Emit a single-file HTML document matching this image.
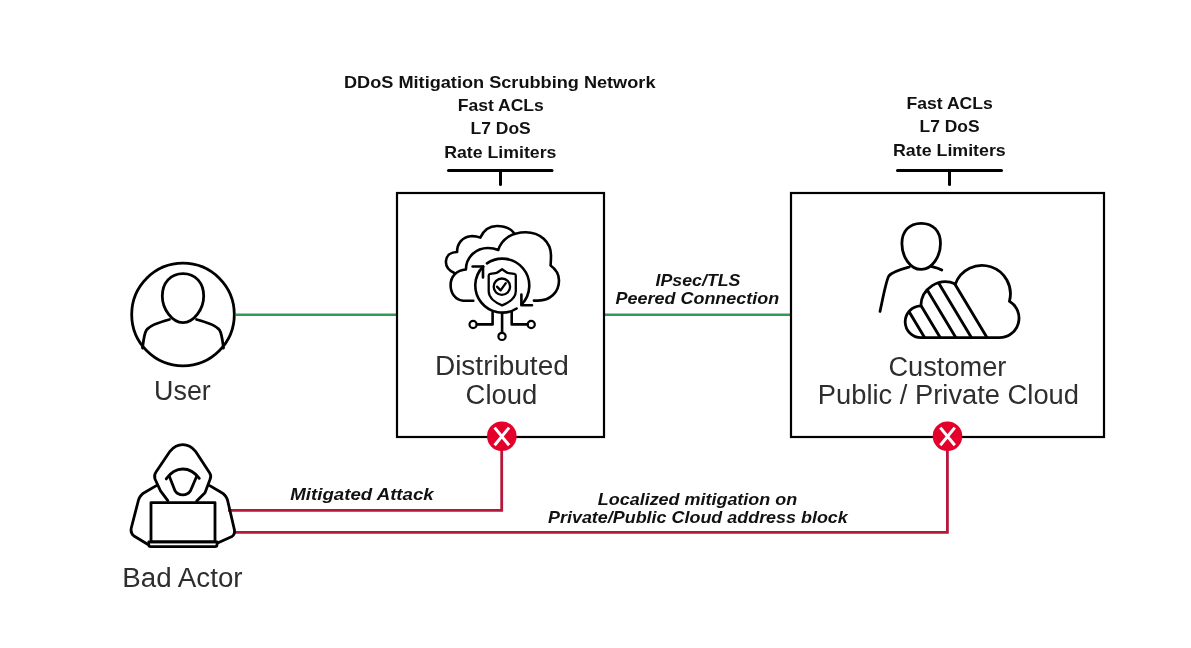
<!DOCTYPE html>
<html><head><meta charset="utf-8">
<style>
html,body{margin:0;padding:0;background:#fff;width:1191px;height:648px;overflow:hidden}
svg{display:block;will-change:transform}
.r{font-family:"Liberation Sans",sans-serif;font-size:27px;fill:#2e2e2e}
.b{font-family:"Liberation Sans",sans-serif;font-size:16.5px;font-weight:bold;fill:#111}
.bi{font-family:"Liberation Sans",sans-serif;font-size:16.5px;font-weight:bold;font-style:italic;fill:#111}
</style></head><body>
<svg width="1191" height="648" viewBox="0 0 1191 648">
<rect width="1191" height="648" fill="#fff"/>
<!-- green lines -->
<line x1="236" y1="314.8" x2="397" y2="314.8" stroke="#2e9c52" stroke-width="2.4"/>
<line x1="604" y1="314.8" x2="791" y2="314.8" stroke="#2e9c52" stroke-width="2.4"/>

<!-- red lines -->
<polyline points="228,510.3 501.7,510.3 501.7,448" fill="none" stroke="#b4193c" stroke-width="2.8"/>
<polyline points="234,532.4 947.4,532.4 947.4,448" fill="none" stroke="#b4193c" stroke-width="2.8"/>

<!-- boxes -->
<rect x="397" y="193" width="207" height="244" fill="none" stroke="#000" stroke-width="2.2"/>
<rect x="791" y="193" width="313" height="244" fill="none" stroke="#000" stroke-width="2.2"/>

<!-- T connectors -->
<g stroke="#000" stroke-width="3" stroke-linecap="round" fill="none">
<line x1="448.5" y1="170.4" x2="552" y2="170.4"/>
<line x1="500.5" y1="170.4" x2="500.5" y2="184.5"/>
<line x1="897.5" y1="170.4" x2="1001.5" y2="170.4"/>
<line x1="949.5" y1="170.4" x2="949.5" y2="184.5"/>
</g>

<!-- X circles -->
<g>
<circle cx="501.8" cy="436.3" r="14.8" fill="#e4002b"/>
<path d="M494.6 427.6 L509.1 445.2 M509.1 427.6 L494.6 445.2" stroke="#fff" stroke-width="3" stroke-linecap="butt"/>
<circle cx="947.5" cy="436.3" r="14.8" fill="#e4002b"/>
<path d="M940.3 427.6 L954.8 445.2 M954.8 427.6 L940.3 445.2" stroke="#fff" stroke-width="3" stroke-linecap="butt"/>
</g>

<!-- User icon -->
<g stroke="#000" stroke-width="2.8" fill="none" stroke-linecap="round" stroke-linejoin="round">
<circle cx="183" cy="314.5" r="51.3"/>
<path d="M183 273.6 C170.5 273.6 162.3 283 162.3 296 C162.3 309 172 322.6 183 322.6 C194 322.6 203.7 309 203.7 296 C203.7 283 195.5 273.6 183 273.6 Z"/>
<path d="M169.5 319.5 C160 322 150 325 146.5 330 C144 334 143.5 341 142.5 348"/>
<path d="M196.5 319.5 C206 322 216 325 219.5 330 C222 334 222.5 341 223.5 348"/>
</g>

<!-- Customer icon -->
<defs><clipPath id="cc"><path d="M921.40 337.70 L999.40 337.70 A19.60 19.60 0 0 0 1009.41 301.25 A28.40 28.40 0 0 0 955.38 283.91 A24.60 24.60 0 0 0 920.81 305.81 A15.90 15.90 0 0 0 921.40 337.70 Z"/></clipPath></defs>
<g stroke="#000" stroke-width="2.8" fill="none" stroke-linecap="round" stroke-linejoin="round">
<path d="M921.2 223.3 C909 223.3 901.9 231.5 901.9 243.5 C901.9 256.5 910 269.4 921.2 269.4 C932 269.4 940.5 256.5 940.5 243.5 C940.5 231.5 933.5 223.3 921.2 223.3 Z"/>
<path d="M909.4 267 C903 268.8 893 271.3 889 275.8 C886.5 279.3 885 288 880 311.5"/>
<path d="M931 266.3 C935 267.3 939 268.3 941.8 270"/>
<path d="M888.70 277.7 L924.70 337.7 M904.30 277.7 L940.30 337.7 M919.90 277.7 L955.90 337.7 M935.50 277.7 L971.50 337.7 M951.10 277.7 L987.10 337.7" clip-path="url(#cc)" stroke-width="2.9"/>
<path d="M921.40 337.70 L999.40 337.70 A19.60 19.60 0 0 0 1009.41 301.25 A28.40 28.40 0 0 0 955.38 283.91 A24.60 24.60 0 0 0 920.81 305.81 A15.90 15.90 0 0 0 921.40 337.70 Z"/>
</g>

<!-- Bad actor icon -->
<g stroke="#000" stroke-width="2.8" fill="none" stroke-linecap="round" stroke-linejoin="round">
<path d="M167.8 500.6 L160.5 490.8 L155 479 C154 476 154.5 474 156 472 L170 451.3 C174 446.5 177.5 444.7 182.8 444.7 C188 444.7 191.5 446.5 195.5 451.3 L209.7 473 C211 475 211 477.5 210 479.5 L205 492.8 L196.7 501.1"/>
<path d="M166.2 478.9 C171 472 176 469 182.8 469 C189.5 469 194.5 472 199.3 478.3"/>
<path d="M169.3 476.3 L175 490.8 C177 494 180 494.9 182.8 494.9 C185.5 494.9 188.5 494 190.5 490.8 L196.7 476.3"/>
<path d="M156.4 485.6 L145 492.3 C141 494.5 139.5 497 138.5 500 L131.4 527.5 C130.5 531 131.5 534 134 536 L147.6 544.2"/>
<path d="M209.7 485.6 L221 492.3 C225 494.5 226.5 497 227.5 500 L234.4 529.8 C235 533 234 535 232 536.5 L217.6 543"/>
<rect x="151" y="502.6" width="64" height="39.2"/>
<path d="M148.8 541.8 L217 541.8 L217 544.8 C217 546.2 216 546.7 215 546.7 L150.8 546.7 C149.6 546.7 148.8 546.2 148.8 544.8 Z"/>
</g>

<!-- Distributed Cloud icon -->
<g stroke="#000" stroke-width="2.6" fill="none" stroke-linecap="round" stroke-linejoin="round">
<!-- back cloud -->
<path d="M454.4 273 C448 270 445.5 266 446 261 C446.5 255 451 252 457.1 252 C457 244 462 237 470.6 236.2 C474 236 477.5 236.5 480.3 237.6 C484 229.5 490 226 497 226 C505 226 511 229 514 233"/>
<!-- front cloud -->
<path d="M473.3 300.7 L463.1 300.7 C455 300 450.6 293 450.6 285 C450.6 276 457 270 465.9 269.5 C466 257 476 248 488 248 C492 248 495.5 248.8 498.3 250 C501.5 239 512 232.2 525.6 232.2 C540 232.2 551 242 551 255.5 C551 259 550.8 262.5 550.6 265.5 C555.5 269 559 274 559 280.5 C559 292.5 550 300.6 538 300.6 L533.9 300.6"/>
<!-- arrow circle arcs -->
<path d="M486.97 263.38 A27 27 0 0 1 521.56 304.52"/>
<path d="M516.61 308.50 A27 27 0 0 1 483.21 266.51"/>
<path d="M472.6 266.5 L483 266.5 L483 277.4"/>
<path d="M521.4 294.5 L521.4 305.2 L532 305.2"/>
<!-- shield -->
<g stroke-width="2.3">
<path d="M502.1 269.2 C499.5 270.8 497.5 273 495.5 273.2 L490.2 273.8 Q488.7 274 488.7 275.5 L488.7 291.3 C488.7 298 496 303 502.1 305.4 C508 303 515.8 298 515.8 291.3 L515.8 275.5 Q515.8 274 514.3 273.8 L508.7 273.2 C506.7 273 504.7 270.8 502.1 269.2 Z"/>
<circle cx="501.9" cy="286.7" r="8.2"/>
<path d="M497 286.6 L500.6 290.4 L505.8 283.2"/>
</g>
<!-- circuit -->
<path d="M492.6 312.4 L492.6 324.4 L476.8 324.4"/>
<path d="M502.1 313 L502.1 332.6"/>
<path d="M511.7 311.8 L511.7 324.4 L527.6 324.4"/>
<circle cx="473.1" cy="324.5" r="3.6" stroke-width="2.2"/>
<circle cx="502" cy="336.4" r="3.6" stroke-width="2.2"/>
<circle cx="531.2" cy="324.5" r="3.6" stroke-width="2.2"/>
</g>

<!-- texts -->
<text class="b" x="344.00" y="87.8" textLength="311.47" lengthAdjust="spacingAndGlyphs">DDoS Mitigation Scrubbing Network</text>
<text class="b" x="457.74" y="111.2" textLength="86.13" lengthAdjust="spacingAndGlyphs">Fast ACLs</text>
<text class="b" x="470.64" y="134.4" textLength="60.15" lengthAdjust="spacingAndGlyphs">L7 DoS</text>
<text class="b" x="444.23" y="157.6" textLength="112.16" lengthAdjust="spacingAndGlyphs">Rate Limiters</text>
<text class="b" x="906.54" y="108.9" textLength="86.23" lengthAdjust="spacingAndGlyphs">Fast ACLs</text>
<text class="b" x="919.54" y="132.4" textLength="60.05" lengthAdjust="spacingAndGlyphs">L7 DoS</text>
<text class="b" x="893.02" y="155.6" textLength="112.77" lengthAdjust="spacingAndGlyphs">Rate Limiters</text>
<text class="r" x="154.11" y="400.4" textLength="56.70" lengthAdjust="spacingAndGlyphs">User</text>
<text class="r" x="434.92" y="375.3" textLength="133.92" lengthAdjust="spacingAndGlyphs">Distributed</text>
<text class="r" x="465.58" y="403.6" textLength="71.79" lengthAdjust="spacingAndGlyphs">Cloud</text>
<text class="r" x="888.49" y="375.6" textLength="117.84" lengthAdjust="spacingAndGlyphs">Customer</text>
<text class="r" x="817.88" y="403.8" textLength="261.07" lengthAdjust="spacingAndGlyphs">Public / Private Cloud</text>
<text class="r" x="122.35" y="587.0" textLength="120.23" lengthAdjust="spacingAndGlyphs">Bad Actor</text>
<text class="bi" x="655.60" y="285.7" textLength="84.84" lengthAdjust="spacingAndGlyphs">IPsec/TLS</text>
<text class="bi" x="615.60" y="303.5" textLength="163.61" lengthAdjust="spacingAndGlyphs">Peered Connection</text>
<text class="bi" x="290.30" y="500.0" textLength="143.41" lengthAdjust="spacingAndGlyphs">Mitigated Attack</text>
<text class="bi" x="597.80" y="504.5" textLength="199.37" lengthAdjust="spacingAndGlyphs">Localized mitigation on</text>
<text class="bi" x="548.00" y="522.6" textLength="299.80" lengthAdjust="spacingAndGlyphs">Private/Public Cloud address block</text>
</svg>
</body></html>
